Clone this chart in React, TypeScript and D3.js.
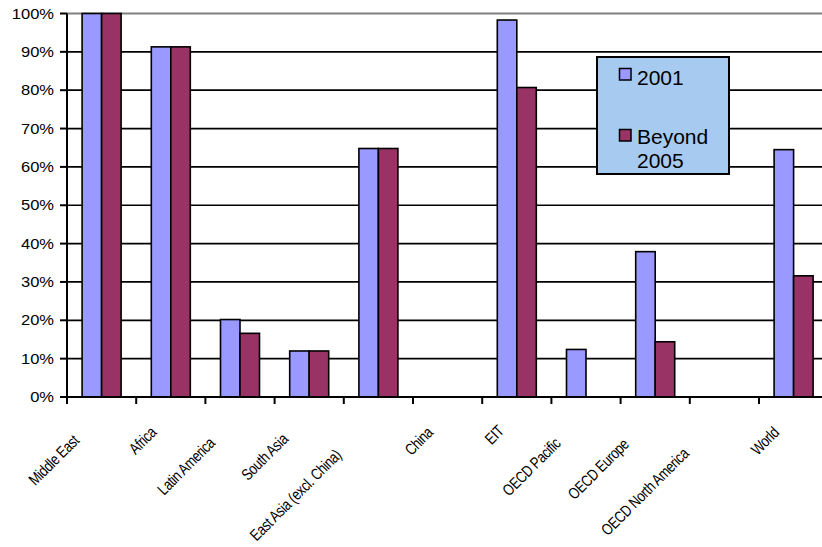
import React, { useEffect, useRef } from "react";
import * as d3 from "d3";

const categories = [
  "Middle East",
  "Africa",
  "Latin America",
  "South Asia",
  "East Asia (excl. China)",
  "China",
  "EIT",
  "OECD Pacific",
  "OECD Europe",
  "OECD North America",
  "World",
];
const series2001 = [100, 91.3, 20.2, 12, 64.8, 0, 98.3, 12.4, 37.9, 0, 64.5];
const seriesBeyond = [100, 91.3, 16.6, 12, 64.8, 0, 80.7, 0, 14.4, 0, 31.6];
const seriesNames = ["2001", "Beyond 2005"];
const yTicks = [0, 10, 20, 30, 40, 50, 60, 70, 80, 90, 100];

const W = 822;
const H = 547;
const X0 = 67;
const BAND = 69.2;
const Y0 = 397;
const Y1 = 13.5;
const BLUE = "#9999FF";
const RED = "#993366";

export default function App() {
  const ref = useRef<SVGSVGElement>(null);

  useEffect(() => {
    const svg = d3.select(ref.current);
    svg.selectAll("*").remove();

    const x = d3
      .scaleBand<string>()
      .domain(categories)
      .range([X0, X0 + BAND * categories.length])
      .paddingInner(0)
      .paddingOuter(0);
    const y = d3.scaleLinear().domain([0, 100]).range([Y0, Y1]);
    const barW = 19.5;

    // gridlines
    svg
      .append("g")
      .selectAll("line")
      .data(yTicks.filter((t) => t > 0 && t < 100))
      .join("line")
      .attr("x1", X0)
      .attr("x2", W)
      .attr("y1", (d) => y(d))
      .attr("y2", (d) => y(d))
      .attr("stroke", "#000")
      .attr("stroke-width", 1.7);
    // top border
    svg
      .append("line")
      .attr("x1", X0)
      .attr("x2", W)
      .attr("y1", y(100))
      .attr("y2", y(100))
      .attr("stroke", "#808080")
      .attr("stroke-width", 2);

    // bars
    const g = svg.append("g");
    categories.forEach((c, i) => {
      const cx = (x(c) as number) + x.bandwidth() / 2;
      const vals = [series2001[i], seriesBeyond[i]];
      vals.forEach((v, k) => {
        if (v <= 0) return;
        g.append("rect")
          .attr("x", cx - barW + k * barW)
          .attr("y", y(v))
          .attr("width", barW)
          .attr("height", Y0 - y(v))
          .attr("fill", k === 0 ? BLUE : RED)
          .attr("stroke", "#000")
          .attr("stroke-width", 1.6);
      });
    });

    // y axis
    svg
      .append("line")
      .attr("x1", X0)
      .attr("x2", X0)
      .attr("y1", Y1)
      .attr("y2", Y0)
      .attr("stroke", "#000")
      .attr("stroke-width", 2);
    const yl = svg.append("g");
    yTicks.forEach((t) => {
      yl.append("line")
        .attr("x1", X0 - 7)
        .attr("x2", X0)
        .attr("y1", y(t))
        .attr("y2", y(t))
        .attr("stroke", "#000")
        .attr("stroke-width", 2);
      yl.append("text")
        .attr("transform", `translate(54,${y(t) + 5}) scale(1.18,1)`)
        .attr("text-anchor", "end")
        .attr("font-family", "Liberation Sans, Arial, sans-serif")
        .attr("font-size", 14)
        .attr("fill", "#000")
        .text(`${t}%`);
    });

    // x axis
    svg
      .append("line")
      .attr("x1", X0 - 7)
      .attr("x2", W)
      .attr("y1", Y0)
      .attr("y2", Y0)
      .attr("stroke", "#000")
      .attr("stroke-width", 2);
    const xl = svg.append("g");
    for (let i = 0; i <= categories.length; i++) {
      const xt = X0 + i * x.step();
      xl.append("line")
        .attr("x1", xt)
        .attr("x2", xt)
        .attr("y1", Y0)
        .attr("y2", Y0 + 7)
        .attr("stroke", "#000")
        .attr("stroke-width", 2);
    }
    const SX = 0.8;
    categories.forEach((c) => {
      const cx = (x(c) as number) + x.bandwidth() / 2;
      const txt = xl
        .append("text")
        .attr("text-anchor", "end")
        .attr("font-family", "Liberation Sans, Arial, sans-serif")
        .attr("font-size", 16)
        .attr("letter-spacing", -0.4)
        .attr("fill", "#000")
        .text(c);
      const node = txt.node() as SVGTextElement;
      const L = node.getComputedTextLength() * SX;
      const t = Math.max(0, 0.25 * (L - 25));
      const ax = cx - 12 - t;
      const ay = 432 + t;
      txt.attr("transform", `translate(${ax},${ay}) rotate(-45) scale(${SX},1)`);
    });

    // legend
    const lg = svg.append("g");
    lg.append("rect")
      .attr("x", 597)
      .attr("y", 57)
      .attr("width", 132)
      .attr("height", 117)
      .attr("fill", "#A6CAF0")
      .attr("stroke", "#000")
      .attr("stroke-width", 2);
    const entries = [
      { name: seriesNames[0], color: BLUE, sy: 68.5, lines: [seriesNames[0]], by: 85 },
      { name: seriesNames[1], color: RED, sy: 129.5, lines: ["Beyond", "2005"], by: 144 },
    ];
    entries.forEach((e) => {
      lg.append("rect")
        .attr("x", 619.5)
        .attr("y", e.sy)
        .attr("width", 11.5)
        .attr("height", 11.5)
        .attr("fill", e.color)
        .attr("stroke", "#000")
        .attr("stroke-width", 1.5);
      e.lines.forEach((ln, j) => {
        lg.append("text")
          .attr("x", 637)
          .attr("y", e.by + j * 23.5)
          .attr("font-family", "Liberation Sans, Arial, sans-serif")
          .attr("font-size", 21)
          .attr("fill", "#000")
          .text(ln);
      });
    });
  }, []);

  return (
    <svg
      ref={ref}
      width={W}
      height={H}
      style={{ position: "absolute", left: 0, top: 0, background: "#fff" }}
    />
  );
}
